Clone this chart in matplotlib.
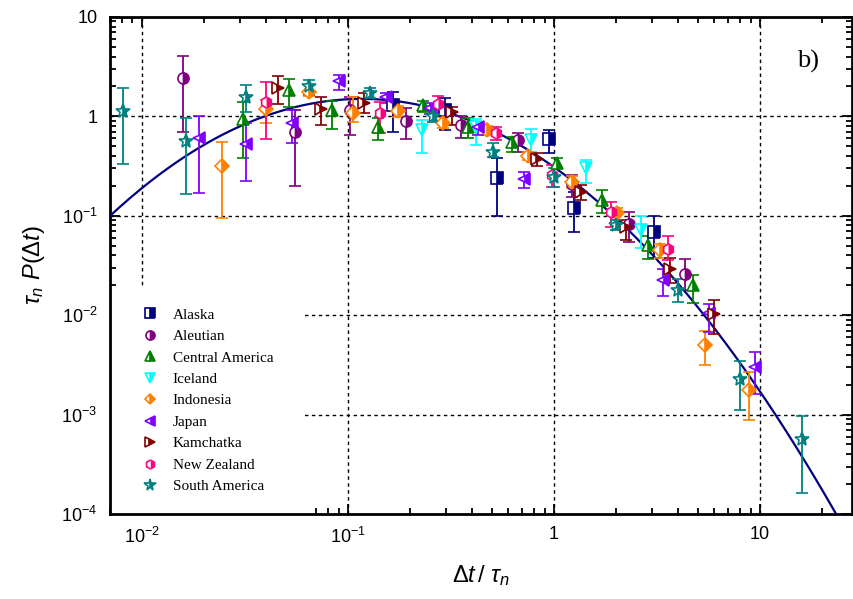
import numpy as np
import matplotlib
matplotlib.use('Agg')
import matplotlib.pyplot as plt
from matplotlib.lines import Line2D
from matplotlib.patches import Rectangle
from matplotlib.ticker import LogLocator, FixedLocator, NullFormatter

plt.rcParams['font.family'] = ['Liberation Sans', 'DejaVu Sans']
plt.rcParams['mathtext.fontset'] = 'custom'
plt.rcParams['mathtext.rm'] = 'Liberation Sans'
plt.rcParams['mathtext.it'] = 'Liberation Sans:italic'

# data: x, value, lower and upper error bar ends
alaska_x = [0.1655, 0.295, 0.53, 0.946, 1.25, 3.06]
alaska_y = [1.30, 1.16, 0.238, 0.588, 0.119, 0.0692]
alaska_lo = [0.70, 0.73, 0.0998, 0.425, 0.069, 0.038]
alaska_hi = [1.77, 1.53, 0.379, 0.73, 0.175, 0.0999]

aleutian_x = [0.0159, 0.0551, 0.102, 0.191, 0.355, 0.671, 1.23, 2.32, 4.33]
aleutian_y = [2.42, 0.692, 1.16, 0.905, 0.82, 0.579, 0.21, 0.0828, 0.026]
aleutian_lo = [0.70, 0.201, 0.65, 0.59, 0.60, 0.442, 0.155, 0.0549, 0.0179]
aleutian_hi = [4.08, 1.16, 1.58, 1.21, 1.0, 0.685, 0.26, 0.108, 0.0364]

camerica_x = [0.0309, 0.0515, 0.084, 0.14, 0.232, 0.384, 0.623, 1.04, 1.71, 2.87, 4.72]
camerica_y = [0.935, 1.84, 1.16, 0.787, 1.30, 0.787, 0.557, 0.337, 0.144, 0.0508, 0.0201]
camerica_lo = [0.379, 1.23, 0.747, 0.58, 1.11, 0.60, 0.442, 0.30, 0.106, 0.0364, 0.0134]
camerica_hi = [1.41, 2.38, 1.44, 0.957, 1.44, 0.957, 0.625, 0.379, 0.182, 0.0626, 0.0254]

iceland_x = [0.229, 0.42, 0.773, 1.43, 2.64]
iceland_y = [0.73, 0.787, 0.579, 0.30, 0.072]
iceland_lo = [0.431, 0.516, 0.442, 0.215, 0.047]
iceland_hi = [0.92, 0.935, 0.742, 0.364, 0.10]

indonesia_x = [0.0245, 0.0398, 0.0646, 0.1057, 0.175, 0.288, 0.471, 0.745, 1.22, 2.02, 3.27, 5.40, 8.87]
indonesia_y = [0.319, 1.18, 1.77, 1.09, 1.14, 0.865, 0.73, 0.40, 0.22, 0.107, 0.0453, 0.005, 0.00177]
indonesia_lo = [0.094, 0.85, 1.60, 0.885, 0.98, 0.76, 0.65, 0.364, 0.19, 0.0908, 0.038, 0.00316, 0.00088]
indonesia_hi = [0.549, 1.46, 2.07, 1.56, 1.28, 0.98, 0.80, 0.442, 0.25, 0.12, 0.052, 0.0069, 0.00266]

japan_x = [0.019, 0.0321, 0.0534, 0.0904, 0.153, 0.25, 0.428, 0.715, 3.38, 5.63, 9.49]
japan_y = [0.603, 0.527, 0.853, 2.27, 1.56, 1.2, 0.787, 0.233, 0.0226, 0.0105, 0.00303]
japan_lo = [0.171, 0.224, 0.544, 1.84, 1.37, 1.05, 0.65, 0.189, 0.0156, 0.0068, 0.00162]
japan_hi = [1.0, 0.85, 1.16, 2.61, 1.71, 1.35, 0.885, 0.278, 0.0289, 0.0129, 0.00424]

kamchatka_x = [0.0457, 0.0743, 0.119, 0.321, 0.83, 1.36, 2.24, 3.66, 5.95]
kamchatka_y = [1.94, 1.18, 1.35, 1.11, 0.37, 0.175, 0.0777, 0.029, 0.0103]
kamchatka_lo = [1.33, 0.82, 1.07, 0.82, 0.317, 0.144, 0.0571, 0.021, 0.0065]
kamchatka_hi = [2.55, 1.58, 1.71, 1.25, 0.425, 0.204, 0.0908, 0.0373, 0.0141]

nzealand_x = [0.0398, 0.1436, 0.274, 0.526, 0.974, 1.89, 3.59]
nzealand_y = [1.41, 1.07, 1.33, 0.676, 0.257, 0.11, 0.0464]
nzealand_lo = [0.59, 0.686, 1.07, 0.579, 0.193, 0.0776, 0.0358]
nzealand_hi = [2.23, 1.41, 1.60, 0.788, 0.325, 0.138, 0.0619]

samerica_x = [0.0081, 0.0163, 0.0321, 0.0646, 0.128, 0.259, 0.504, 1.0, 2.0, 4.02, 7.99, 16.0]
samerica_y = [1.14, 0.57, 1.58, 2.02, 1.71, 1.0, 0.441, 0.244, 0.0808, 0.0179, 0.00226, 0.000564]
samerica_lo = [0.332, 0.167, 1.11, 1.64, 1.52, 0.88, 0.393, 0.196, 0.072, 0.0137, 0.00112, 0.000164]
samerica_hi = [1.94, 0.97, 2.05, 2.32, 1.93, 1.15, 0.537, 0.30, 0.091, 0.0230, 0.00344, 0.00097]

# fitted curve: parabola in log-log (log-normal shape), coefficients
fit_a, fit_b, fit_c = -0.51, -1.47, -0.788

series = [
    ('Alaska', alaska_x, alaska_y, alaska_lo, alaska_hi, '#00007f', 's'),
    ('Aleutian', aleutian_x, aleutian_y, aleutian_lo, aleutian_hi, '#7f007f', 'o'),
    ('Central America', camerica_x, camerica_y, camerica_lo, camerica_hi, '#008000', '^'),
    ('Iceland', iceland_x, iceland_y, iceland_lo, iceland_hi, '#00ffff', 'v'),
    ('Indonesia', indonesia_x, indonesia_y, indonesia_lo, indonesia_hi, '#ff8000', 'D'),
    ('Japan', japan_x, japan_y, japan_lo, japan_hi, '#8000ff', '<'),
    ('Kamchatka', kamchatka_x, kamchatka_y, kamchatka_lo, kamchatka_hi, '#800000', '>'),
    ('New Zealand', nzealand_x, nzealand_y, nzealand_lo, nzealand_hi, '#ff0080', 'h'),
    ('South America', samerica_x, samerica_y, samerica_lo, samerica_hi, '#008080', '*'),
]

fig = plt.figure(figsize=(8.54, 5.99), dpi=100)
ax = fig.add_axes([0.1288, 0.142, 0.869, 0.8297])

ax.set_xscale('log')
ax.set_yscale('log')
ax.set_xlim(0.007, 28)
ax.set_ylim(1e-4, 10)

# fit line
xf = np.logspace(np.log10(0.007), np.log10(28), 300)
uf = np.log10(xf)
ax.plot(xf, 10 ** (fit_a + fit_b * uf + fit_c * uf ** 2), color='#000080', lw=1.6, zorder=3)

handles = []
for name, x, y, lo, hi, col, mk in series:
    x = np.array(x)
    y = np.array(y)
    err = [y - np.array(lo), np.array(hi) - y]
    ms = 10 if mk == '*' else 8
    if mk == 'D':
        ms = 7
    ax.errorbar(x, y, yerr=err, fmt=mk, color=col, ms=ms, mfc=col, mec=col,
                fillstyle='right', markerfacecoloralt='white', mew=1.2,
                elinewidth=1.3, capsize=4.5, capthick=1.3, zorder=4)
    handles.append(Line2D([], [], ls='none', marker=mk, color=col, ms=ms - 1.5, mec=col,
                          fillstyle='right', markerfacecoloralt='white', mew=1.2, label=name))

# grid at decades
ax.grid(True, which='major', ls=(0, (2.5, 2.5)), color='black', lw=1.0, zorder=1)
ax.set_axisbelow(True)

# white area behind legend
ax.add_patch(Rectangle((0, 0), 0.263, 0.455, transform=ax.transAxes,
                       facecolor='white', edgecolor='none', zorder=2))
leg = ax.legend(handles=handles, loc='lower left', bbox_to_anchor=(0.035, 0.029),
                frameon=False, prop={'family': 'Liberation Serif', 'size': 11},
                handlelength=1.0, handletextpad=1.0, labelspacing=0.51, borderaxespad=0)
leg.set_zorder(5)

# ticks
ax.xaxis.set_major_locator(FixedLocator([0.01, 0.1, 1, 10]))
ax.set_xticklabels([r'$10^{-2}$', r'$10^{-1}$', '1', '10'])
ax.yaxis.set_major_locator(FixedLocator([1e-4, 1e-3, 1e-2, 1e-1, 1, 10]))
ax.set_yticklabels([r'$10^{-4}$', r'$10^{-3}$', r'$10^{-2}$', r'$10^{-1}$', '1', '10'])
ax.xaxis.set_minor_locator(LogLocator(base=10, subs=np.arange(2, 10), numticks=20))
ax.yaxis.set_minor_locator(LogLocator(base=10, subs=np.arange(2, 10), numticks=20))
ax.xaxis.set_minor_formatter(NullFormatter())
ax.yaxis.set_minor_formatter(NullFormatter())
ax.tick_params(which='both', direction='in', top=True, right=True, labelsize=13, width=1.3)
ax.tick_params(which='major', length=7, pad=9)
ax.tick_params(which='minor', length=4)

for sp in ax.spines.values():
    sp.set_linewidth(2)

ax.set_xlabel(r'$\Delta t\,/\ \tau_n$', fontsize=17, labelpad=12)
ax.set_ylabel(r'$\tau_n\ P(\Delta t)$', fontsize=17, labelpad=10)

ax.text(0.94, 0.91, 'b)', transform=ax.transAxes, fontsize=19,
        family='Liberation Serif', ha='center', va='center')

fig.savefig('out.png', dpi=100)
